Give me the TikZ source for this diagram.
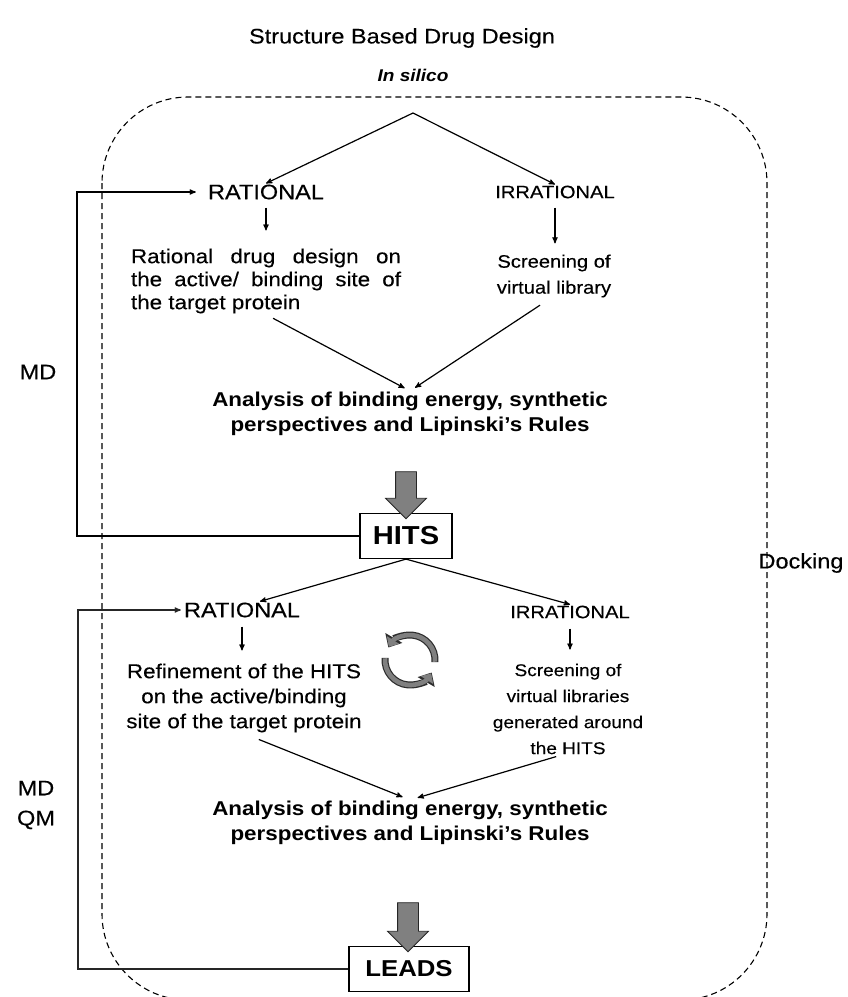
\documentclass[tikz,border=0pt]{standalone}
\usepackage{fontspec}
\setmainfont{Liberation Sans}[FakeStretch=1.12, UprightFeatures={FakeBold=0.3}]
\usetikzlibrary{arrows,arrows.meta,positioning,shapes.arrows}

\begin{document}
\begin{tikzpicture}[x=1pt,y=-1pt,>=stealth',auto]
		\tikzstyle{label}=[font=\fontsize{20}{23}\selectfont, align=center, inner sep=1pt]
		\tikzstyle{small label}=[font=\fontsize{17}{26}\selectfont, align=center, inner sep=1pt]
		\tikzstyle{summary}=[font=\fontsize{20}{25}\selectfont\bfseries, align=center, inner sep=1pt]
		\tikzstyle{result}=[rectangle, draw, line width=1.2pt, fill=white, font=\fontsize{26}{28}\selectfont\bfseries, minimum width=92pt, minimum height=45pt, inner sep=0pt]
		\tikzstyle{flow}=[->, line width=1.2pt]
		\tikzstyle{fat arrow}=[single arrow, draw=gray!30!black, line width=0.8pt, fill=gray, shape border rotate=270, inner sep=10pt, single arrow head extend=10pt, minimum height=47pt]
		\tikzstyle{cycle out}=[line width=7pt, gray!35!black, -{Triangle[width=19pt,length=11pt]}]
		\tikzstyle{cycle in}=[line width=4.6pt, gray, -{Triangle[width=14pt,length=8pt]}]

		\useasboundingbox (0,0) rectangle (848,997);
		\draw [line width=1.1pt, dash pattern=on 6pt off 4pt, rounded corners=86pt] (102,97) rectangle (767,1000);

		\node [label, font=\fontsize{21}{23}\selectfont] (title) at (402,38) {Structure Based Drug Design};
		\node [label, font=\fontsize{17}{22}\selectfont\bfseries\itshape] (silico) at (413,75) {In silico};
		\coordinate (split) at (413,113);

		% first round
		\node [label, font=\fontsize{21}{23}\selectfont] (rat1) at (266,192) {RATIONAL};
		\node [label, font=\fontsize{18}{23}\selectfont] (irr1) at (555,192) {IRRATIONAL};
		\node [label, align=left] (site1) at (266,281) {\makebox[270pt][s]{Rational drug design on}\\\makebox[270pt][s]{the active/ binding site of}\\the target protein};
		\node [label, font=\fontsize{18}{26}\selectfont] (lib1) at (554,276) {Screening of\\virtual library};
		\node [summary] (ana1) at (410,414) {Analysis of binding energy, synthetic\\perspectives and Lipinski's Rules};
		\node [result] (hits) at (406,536) {HITS};
		\node [fat arrow] (push1) at (406,490) {};

		\draw [flow] (split) -- (rat1.north);
		\draw [flow] (split) -- (irr1.north);
		\draw [flow, shorten <=7pt, shorten >=17pt] (rat1.south) -- (site1.north);
		\draw [flow, shorten <=8pt, shorten >=10pt] (irr1.south) -- (irr1.south |- lib1.north);
		\draw [flow, shorten <=8pt, shorten >=6pt] (site1.south) -- (ana1.north);
		\draw [flow, shorten <=12pt, shorten >=6pt] ([xshift=-4pt]lib1.south) -- (ana1.north);

		% second round
		\node [label, font=\fontsize{21}{23}\selectfont] (rat2) at (242,610) {RATIONAL};
		\node [label, font=\fontsize{18}{23}\selectfont] (irr2) at (570,612) {IRRATIONAL};
		\node [label, font=\fontsize{20}{25}\selectfont] (site2) at (244,698) {Refinement of the HITS\\on the active/binding\\site of the target protein};
		\node [small label] (lib2) at (568,709) {Screening of\\virtual libraries\\generated around\\the HITS};
		\node [summary] (ana2) at (410,823) {Analysis of binding energy, synthetic\\perspectives and Lipinski's Rules};
		\node [result, minimum width=120pt, font=\fontsize{23}{26}\selectfont\bfseries] (leads) at (409,969) {LEADS};
		\node [fat arrow, minimum height=49pt] (push2) at (408,922) {};

		\draw [flow] (hits.south) -- ([xshift=18pt]rat2.north);
		\draw [flow] (hits.south) -- (irr2.north);
		\draw [flow, shorten <=8pt, shorten >=12pt] (rat2.south) -- (rat2.south |- site2.north);
		\draw [flow, shorten <=9pt, shorten >=13pt] (irr2.south) -- (irr2.south |- lib2.north);
		\draw [flow, shorten <=16pt, shorten >=8pt] (site2.south) -- (ana2.north);
		\draw [flow, shorten <=4pt, shorten >=8pt] ([xshift=-8pt]lib2.south) -- (ana2.north);

		% refinement cycle
		\coordinate (cycle) at (410,660);
		\draw [cycle out] ([shift={(185:25)}]cycle) arc (185:30:25);
		\draw [cycle out] ([shift={(5:25)}]cycle) arc (5:-150:25);
		\draw [cycle in] ([shift={(184:25)}]cycle) arc (184:32:25);
		\draw [cycle in] ([shift={(4:25)}]cycle) arc (4:-148:25);

		% feedback loops
		\coordinate (md line) at (77,0);
		\coordinate (qm line) at (78,0);
		\draw [flow] (hits.west) -- (hits.west -| md line) |- ([xshift=-11pt]rat1.west);
		\draw [flow, gray!30!black] (leads.west) -- (leads.west -| qm line) |- ([xshift=-2pt]rat2.west);

		\node [label, font=\fontsize{21}{26}\selectfont] (md) at (38,372) {MD};
		\node [label, font=\fontsize{21}{30}\selectfont] (mdqm) at (36,805) {MD\\QM};
		\node [label, font=\fontsize{21}{24}\selectfont] (dock) at (801,563) {Docking};
	\end{tikzpicture}
\end{document}
